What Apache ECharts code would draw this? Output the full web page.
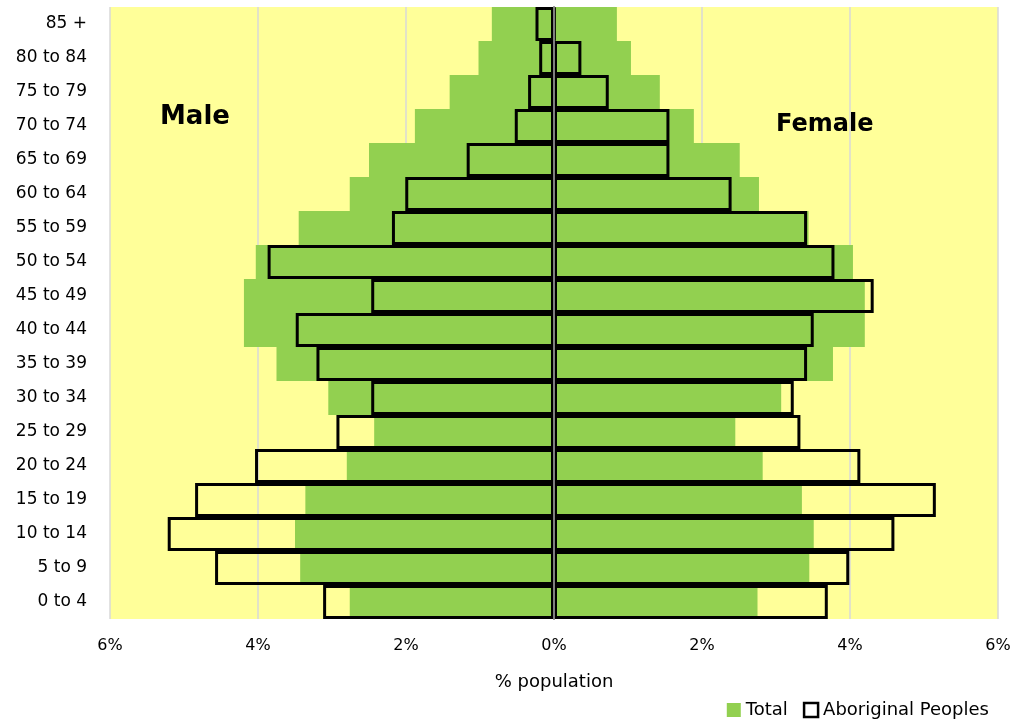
<!DOCTYPE html>
<html>
<head>
<meta charset="utf-8">
<script src="https://cdn.jsdelivr.net/npm/echarts@6/dist/echarts.min.js"></script>
<style>
  html, body { margin: 0; padding: 0; background: #fff; }
  #app { width: 1020px; height: 722px; }
</style>
</head>
<body>
<div id="app"></div>
<script>
// age groups, bottom to top
const ageGroups = ["0 to 4", "5 to 9", "10 to 14", "15 to 19", "20 to 24", "25 to 29",
  "30 to 34", "35 to 39", "40 to 44", "45 to 49", "50 to 54", "55 to 59",
  "60 to 64", "65 to 69", "70 to 74", "75 to 79", "80 to 84", "85 +"];

// % of population
const totalMale = [2.76, 3.43, 3.50, 3.36, 2.80, 2.43, 3.05, 3.75, 4.19, 4.19,
  4.03, 3.45, 2.76, 2.50, 1.88, 1.41, 1.02, 0.84];
const totalFemale = [2.75, 3.45, 3.51, 3.35, 2.82, 2.45, 3.07, 3.77, 4.20, 4.20,
  4.04, 3.44, 2.77, 2.51, 1.89, 1.43, 1.04, 0.85];
const aboriginalMale = [3.12, 4.58, 5.22, 4.85, 4.04, 2.94, 2.47, 3.21, 3.49, 2.47,
  3.87, 2.19, 2.01, 1.18, 0.53, 0.35, 0.20, 0.25];
const aboriginalFemale = [3.70, 3.99, 4.60, 5.16, 4.14, 3.33, 3.24, 3.42, 3.51, 4.32,
  3.79, 3.42, 2.40, 1.56, 1.56, 0.74, 0.37, 0.01];

const xTicks = { min: -6, max: 6, step: 2 };

const FONT = "DejaVu Sans";
const GREEN = "#92D050";

function totalSeries(data) {
  return {
    name: "Total",
    type: "bar",
    stack: "total",
    barCategoryGap: "0%",
    barGap: "-100%",
    itemStyle: { color: GREEN },
    data
  };
}

function aboriginalSeries(data) {
  return {
    name: "Aboriginal Peoples",
    type: "bar",
    stack: "aboriginal",
    barCategoryGap: "0%",
    barGap: "-100%",
    itemStyle: { color: "rgba(0,0,0,0)", borderColor: "#000", borderWidth: 3 },
    data
  };
}

const chart = echarts.init(document.getElementById("app"));
chart.setOption({
  animation: false,
  backgroundColor: "#fff",
  textStyle: { fontFamily: FONT },
  grid: {
    left: 110,
    right: 22,
    top: 7,
    bottom: 103,
    show: true,
    backgroundColor: "#FFFF99",
    borderWidth: 0
  },
  legend: {
    right: 26,
    top: 696,
    itemWidth: 14,
    itemHeight: 14,
    itemGap: 15,
    textStyle: { fontFamily: FONT, fontSize: 18, color: "#000" },
    data: [
      { name: "Total", icon: "rect", itemStyle: { color: GREEN, borderWidth: 0 } },
      { name: "Aboriginal Peoples", icon: "rect",
        itemStyle: { color: "#fff", borderColor: "#000", borderWidth: 2.5 } }
    ]
  },
  xAxis: {
    type: "value",
    min: xTicks.min,
    max: xTicks.max,
    interval: xTicks.step,
    name: "% population",
    nameLocation: "middle",
    nameGap: 54,
    nameTextStyle: { fontFamily: FONT, fontSize: 18, color: "#000" },
    axisLine: { show: false },
    axisTick: { show: false },
    axisLabel: {
      margin: 19,
      fontFamily: FONT,
      fontSize: 16,
      color: "#000",
      formatter: v => Math.abs(v) + "%"
    },
    splitLine: { show: true, lineStyle: { color: "#D9D9D9", width: 1.5 } }
  },
  yAxis: {
    type: "category",
    data: ageGroups,
    z: 10,
    axisLine: { show: true, onZero: true, lineStyle: { color: "#7F7F7F", width: 2 } },
    axisTick: { show: false },
    axisLabel: {
      margin: 23,
      fontFamily: FONT,
      fontSize: 17,
      color: "#000"
    },
    splitLine: { show: false }
  },
  graphic: [
    {
      type: "text",
      left: 160,
      top: 104,
      style: { text: "Male", fontFamily: FONT, fontSize: 26, fontWeight: "bold", fill: "#000" }
    },
    {
      type: "text",
      left: 776,
      top: 113,
      style: { text: "Female", fontFamily: FONT, fontSize: 24, fontWeight: "bold", fill: "#000" }
    }
  ],
  series: [
    totalSeries(totalMale.map(v => -v)),
    totalSeries(totalFemale),
    aboriginalSeries(aboriginalMale.map(v => -v)),
    aboriginalSeries(aboriginalFemale)
  ]
});

window.onresize = function() {
  chart.resize();
};
</script>
</body>
</html>
